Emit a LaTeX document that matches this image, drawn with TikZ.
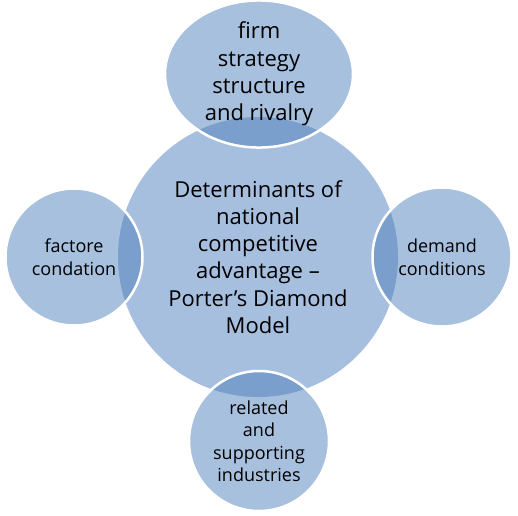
\documentclass[tikz,border=0pt]{standalone}
\usepackage{fontspec}
\setmainfont{Open Sans}
\usetikzlibrary{shapes.geometric}
\definecolor{corefill}{HTML}{A7BFDE}
\definecolor{satfill}{HTML}{4F81BD}
\tikzset{
  core/.style={circle, fill=corefill, inner sep=0pt, align=center,
    font=\fontsize{22}{27.3}\selectfont, text=black},
  sat/.style={fill=satfill, fill opacity=0.5, text opacity=1, draw=white,
    line width=2.5pt, inner sep=0pt, align=center, text=black},
  bigtext/.style={font=\fontsize{22}{27.3}\selectfont},
  smalltext/.style={font=\fontsize{18}{22.5}\selectfont}
}
\begin{document}
\begin{tikzpicture}[x=1pt,y=-1pt]
\useasboundingbox (0,0) rectangle (518,515);
\node (center) [core, minimum size=280pt] at (258,257)
  {Determinants of\\national\\competitive\\advantage –\\Porter’s Diamond\\Model};
\node (firm) [sat, ellipse, minimum width=188pt, minimum height=142pt, bigtext] at (259,74)
  {firm\\strategy\\structure\\and rivalry};
\node (factor) [sat, circle, minimum size=137pt, smalltext] at (74,257)
  {factore\\condation};
\node (demand) [sat, circle, minimum size=139pt, smalltext] at (442,257)
  {demand\\conditions};
\node (related) [sat, circle, minimum size=140pt, smalltext] at (259,441)
  {related\\and\\supporting\\industries};
\end{tikzpicture}
\end{document}
